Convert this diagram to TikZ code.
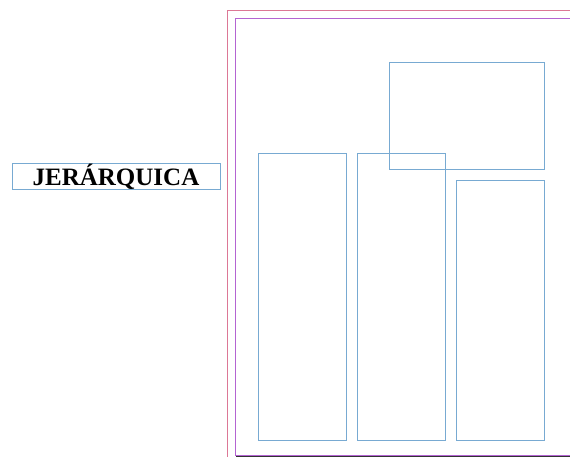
\documentclass[tikz,border=0pt]{standalone}
\usepackage{fontspec}
\setmainfont{Liberation Serif}
\definecolor{frameblue}{RGB}{120,170,210}
\definecolor{pinkline}{RGB}{220,120,150}
\definecolor{purpline}{RGB}{180,100,210}
\begin{document}
\begin{tikzpicture}[x=1pt,y=-1pt,
  box/.style={draw=frameblue,line width=0.8pt},
  lbl/.style={draw=frameblue,line width=0.6pt,minimum width=208pt,minimum height=23pt,inner sep=0pt,font=\bfseries\fontsize{25}{27}\selectfont}]
\useasboundingbox (0,0) rectangle (570,457);
\draw[pinkline,line width=0.8pt] (227,470) -- (227,10) -- (580,10);
\draw[purpline,line width=0.8pt] (580,455) -- (235,455) -- (235,18) -- (580,18);
\draw[black!80,line width=1pt] (236,456.5) -- (580,456.5);
\node[lbl] (title) at (116,176.5) {JERÁRQUICA};
\node[box,minimum width=88pt,minimum height=287pt,inner sep=0pt] (a) at (302,296.5) {};
\node[box,minimum width=88pt,minimum height=287pt,inner sep=0pt] (b) at (401,296.5) {};
\node[box,minimum width=88pt,minimum height=260pt,inner sep=0pt] (c) at (500,310) {};
\node[box,minimum width=155pt,minimum height=107pt,inner sep=0pt] (d) at (466.5,115.5) {};
\end{tikzpicture}
\end{document}
